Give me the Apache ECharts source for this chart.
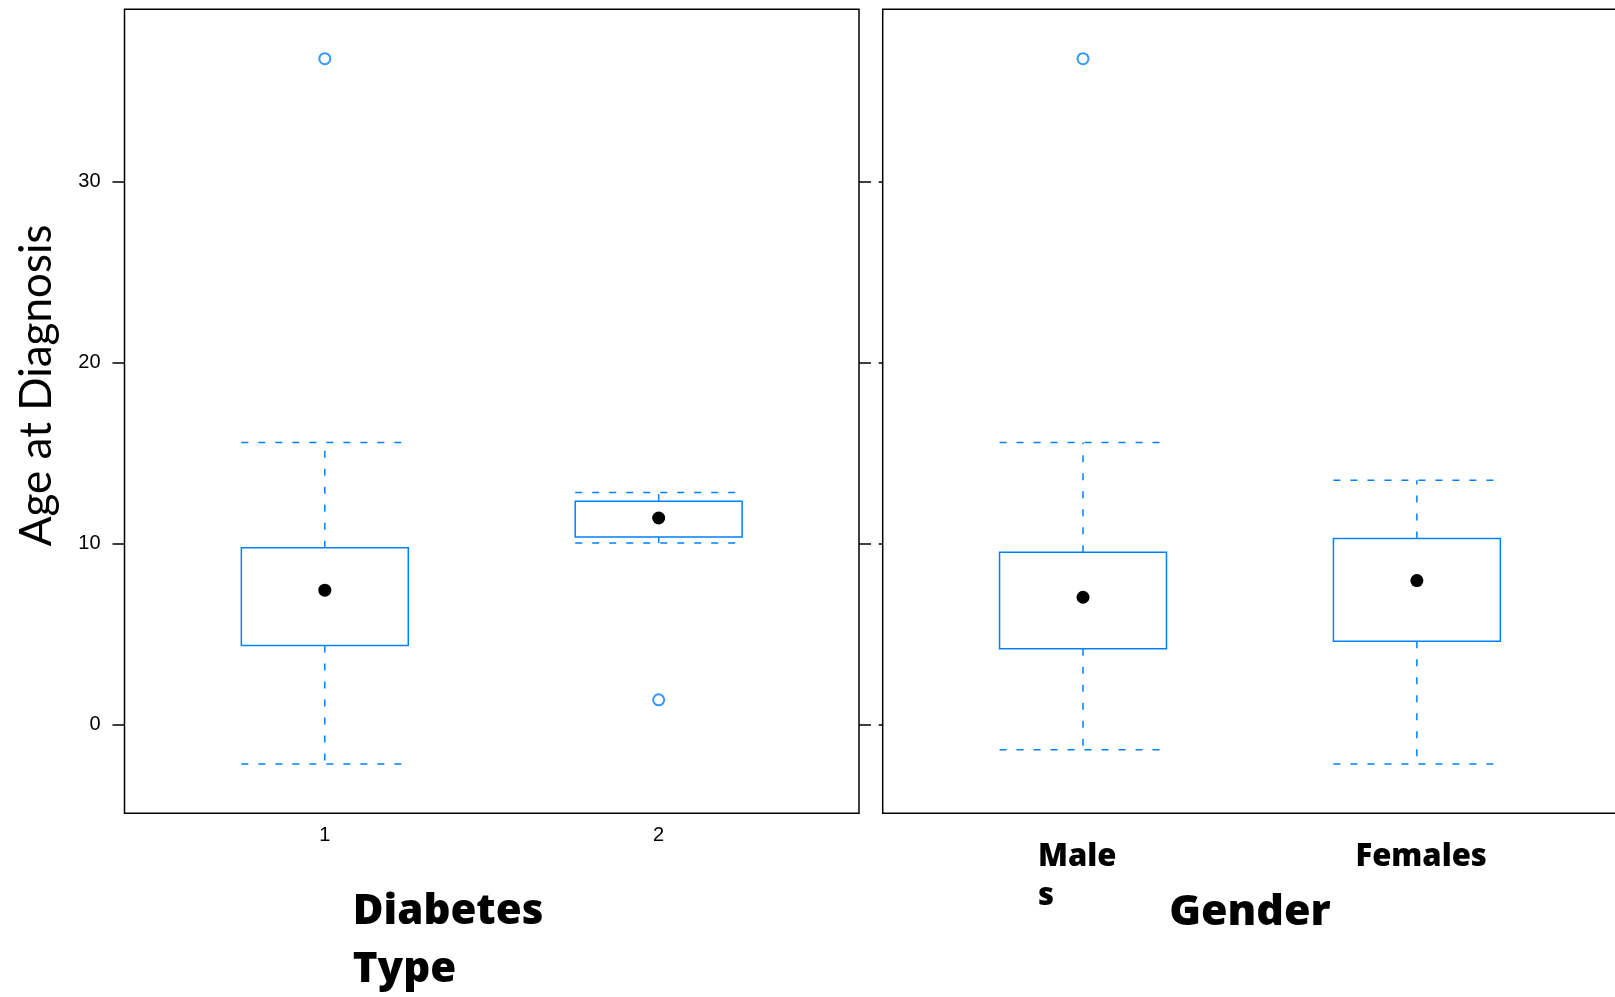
<!DOCTYPE html>
<html>
<head>
<meta charset="utf-8">
<script src="https://cdn.jsdelivr.net/npm/echarts@6/dist/echarts.min.js"></script>
<style>
html,body{margin:0;padding:0;background:#fff;}
#chart{width:1615px;height:997px;}
</style>
</head>
<body>
<div id="chart"></div>
<script>
// ---- data ----
const typeCategories = ['1', '2'];
const typeLower  = [-2.19, 10.02];
const typeQ1     = [4.35, 10.35];
const typeMedian = [7.41, 11.40];
const typeQ3     = [9.75, 12.33];
const typeUpper  = [15.57, 12.81];
const typeOutlierGroup = [1, 2];
const typeOutlierValue = [36.78, 1.35];

const genderCategories = ['Males', 'Females'];
const genderLower  = [-1.41, -2.19];
const genderQ1     = [4.17, 4.59];
const genderMedian = [7.02, 7.94];
const genderQ3     = [9.51, 10.26];
const genderUpper  = [15.57, 13.49];
const genderOutlierGroup = [1];
const genderOutlierValue = [36.78];

const yTicks = [0, 10, 20, 30];
const yMin = -4.92, yMax = 39.51;
const xMin = 0.4, xMax = 2.6;
const groupPositions = [1, 2];

// ---- build ----
const BLUE = '#0080ff';
const BOX_HALF = 0.25;

function boxData(lo, q1, med, q3, hi) {
  return groupPositions.map((x, i) => [x, lo[i], q1[i], med[i], q3[i], hi[i]]);
}
function outlierData(g, v) {
  return g.map((x, i) => [x, v[i]]);
}

function renderBox(params, api) {
  const x = api.value(0), lo = api.value(1), q1 = api.value(2),
        med = api.value(3), q3 = api.value(4), hi = api.value(5);
  const pTL = api.coord([x - BOX_HALF, q3]);
  const pBR = api.coord([x + BOX_HALF, q1]);
  const pHi = api.coord([x, hi]), pLo = api.coord([x, lo]);
  const pQ3 = api.coord([x, q3]), pQ1 = api.coord([x, q1]);
  const pMed = api.coord([x, med]);
  const capL = pTL[0], capR = pBR[0];
  const vStyle = {stroke: BLUE, lineWidth: 1.5, lineDash: [7, 11], fill: null};
  const hStyle = {stroke: BLUE, lineWidth: 1.5, lineDash: [7, 10], fill: null};
  return {
    type: 'group',
    children: [
      {type: 'line', shape: {x1: pQ3[0], y1: pQ3[1], x2: pHi[0], y2: pHi[1]}, style: vStyle},
      {type: 'line', shape: {x1: pQ1[0], y1: pQ1[1], x2: pLo[0], y2: pLo[1]}, style: vStyle},
      {type: 'line', shape: {x1: capL, y1: pHi[1], x2: capR, y2: pHi[1]}, style: hStyle},
      {type: 'line', shape: {x1: capL, y1: pLo[1], x2: capR, y2: pLo[1]}, style: hStyle},
      {type: 'rect', shape: {x: pTL[0], y: pTL[1], width: pBR[0] - pTL[0], height: pBR[1] - pTL[1]},
       style: {fill: null, stroke: BLUE, lineWidth: 1.5}},
      {type: 'circle', shape: {cx: pMed[0], cy: pMed[1], r: 6.5}, style: {fill: '#000'}}
    ]
  };
}

const TICK_FONT = {fontFamily: 'Liberation Sans', fontSize: 20, color: '#000'};
const BOLD_FONT = 'Open Sans';

function yAxisBase(gridIndex, position, tickLen, showLabel, name) {
  return {
    type: 'value', gridIndex: gridIndex, position: position,
    min: yMin, max: yMax,
    axisLine: {show: false},
    splitLine: {show: false},
    axisTick: {show: true, inside: false, length: tickLen, customValues: yTicks,
               lineStyle: {color: '#000', width: 1.5}},
    axisLabel: Object.assign({show: showLabel, customValues: yTicks, margin: 24}, TICK_FONT),
    name: name || '',
    nameLocation: 'middle',
    nameGap: 66,
    nameRotate: 90,
    nameMoveOverlap: false,
    nameTextStyle: {fontFamily: 'Lato', fontSize: 44, color: '#000', padding: [0, 0, 0, 52]}
  };
}

const option = {
  animation: false,
  backgroundColor: '#fff',
  grid: [
    {left: 124.5, top: 9.3, width: 734.5, height: 804, show: true,
     borderColor: '#000', borderWidth: 1.5, backgroundColor: 'transparent',
     outerBoundsMode: 'none', containLabel: false},
    {left: 882.7, top: 9.3, width: 734.5, height: 804, show: true,
     borderColor: '#000', borderWidth: 1.5, backgroundColor: 'transparent',
     outerBoundsMode: 'none', containLabel: false}
  ],
  xAxis: [
    {
      type: 'value', gridIndex: 0, min: xMin, max: xMax,
      axisLine: {show: false}, axisTick: {show: false}, splitLine: {show: false},
      axisLabel: Object.assign({customValues: groupPositions, margin: 12,
        formatter: v => typeCategories[Math.round(v) - 1]}, TICK_FONT),
      name: '{t|Diabetes}\n{t|Type}',
      nameLocation: 'middle', nameGap: 70, nameMoveOverlap: false,
      nameTextStyle: {rich: {t: {width: 278, align: 'left', fontFamily: BOLD_FONT,
        fontSize: 42, fontWeight: 800, color: '#000', lineHeight: 58}}}
    },
    {
      type: 'value', gridIndex: 1, min: xMin, max: xMax,
      axisLine: {show: false}, axisTick: {show: false}, splitLine: {show: false},
      axisLabel: {customValues: groupPositions, margin: 24,
        formatter: v => {
          const s = genderCategories[Math.round(v) - 1];
          if (Math.round(v) === 1) return '{m|' + s.slice(0, -1) + '}\n{m|' + s.slice(-1) + '}';
          return '{f|' + s + '}';
        },
        rich: {
          m: {width: 90, align: 'left', fontFamily: BOLD_FONT, fontSize: 31, fontWeight: 800, color: '#000', lineHeight: 39},
          f: {width: 140, align: 'right', fontFamily: BOLD_FONT, fontSize: 31, fontWeight: 800, color: '#000', lineHeight: 39}
        }
      },
      name: 'Gender',
      nameLocation: 'middle', nameGap: 71, nameMoveOverlap: false,
      nameTextStyle: {fontFamily: BOLD_FONT, fontSize: 43, fontWeight: 800, color: '#000',
                      verticalAlign: 'top', lineHeight: 56}
    }
  ],
  yAxis: [
    yAxisBase(0, 'left', 12, true, 'Age at Diagnosis'),
    yAxisBase(0, 'right', 12, false),
    yAxisBase(1, 'left', 4, false)
  ],
  series: [
    {type: 'custom', xAxisIndex: 0, yAxisIndex: 0, renderItem: renderBox,
     encode: {x: 0, y: [1, 2, 3, 4, 5]},
     data: boxData(typeLower, typeQ1, typeMedian, typeQ3, typeUpper)},
    {type: 'scatter', xAxisIndex: 0, yAxisIndex: 0, symbol: 'emptyCircle', symbolSize: 11,
     itemStyle: {color: BLUE, borderColor: BLUE, borderWidth: 1.5},
     data: outlierData(typeOutlierGroup, typeOutlierValue)},
    {type: 'custom', xAxisIndex: 1, yAxisIndex: 2, renderItem: renderBox,
     encode: {x: 0, y: [1, 2, 3, 4, 5]},
     data: boxData(genderLower, genderQ1, genderMedian, genderQ3, genderUpper)},
    {type: 'scatter', xAxisIndex: 1, yAxisIndex: 2, symbol: 'emptyCircle', symbolSize: 11,
     itemStyle: {color: BLUE, borderColor: BLUE, borderWidth: 1.5},
     data: outlierData(genderOutlierGroup, genderOutlierValue)}
  ]
};

const chart = echarts.init(document.getElementById('chart'), null, {renderer: 'canvas'});
chart.setOption(option);
</script>
</body>
</html>
